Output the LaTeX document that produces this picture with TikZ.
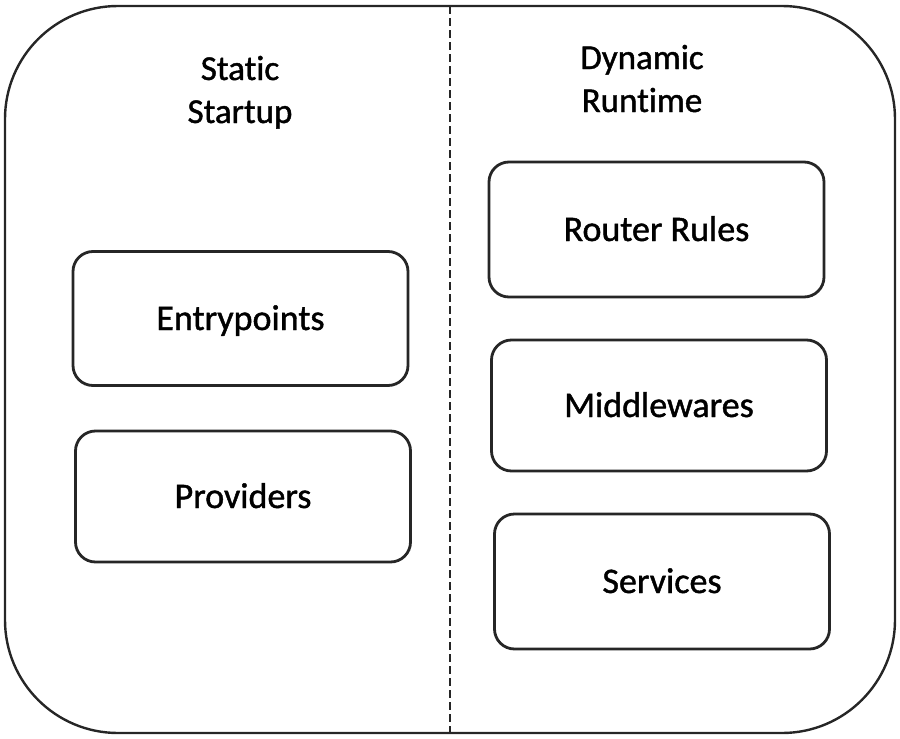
\documentclass[tikz,border=0pt]{standalone}
\usepackage{fontspec}
\setmainfont{Carlito}
\newfontfamily\diagfont{Carlito}[FakeBold=1.2,RawFeature=-liga]
\begin{document}
\begin{tikzpicture}[x=1pt,y=-1pt,
  frame/.style={draw=black!85, line width=2.4pt},
  compbox/.style={draw=black!85, line width=2.8pt, rounded corners=20pt, minimum width=335pt, minimum height=134pt, inner sep=0pt, text height=23pt, text depth=0pt, font=\diagfont\fontsize{36}{43}\selectfont},
  title/.style={align=center, anchor=base, font=\diagfont\fontsize{35}{43}\selectfont}]
\useasboundingbox (0,0) rectangle (900,739);
\draw[frame, rounded corners=113pt] (5,6) rectangle (895,733);
\coordinate (dtop) at (450,6);
\coordinate (dbot) at (450,733);
\draw[black!85, line width=2pt, dash pattern=on 8pt off 4pt] (dtop) -- (dbot);
\node[title] (static) at (240,123) {Static\\Startup};
\node[title] (dynamic) at (642,112) {Dynamic\\Runtime};
\node[compbox] (entry) at (240.5,318.5) {Entrypoints};
\node[compbox, minimum height=131pt] (prov) at (243,496.5) {Providers};
\node[compbox, minimum height=135pt] (router) at (656.5,229.5) {Router Rules};
\node[compbox, minimum height=131pt] (mid) at (659,405.5) {Middlewares};
\node[compbox, minimum height=135pt] (serv) at (662,581.5) {Services};
\end{tikzpicture}
\end{document}
